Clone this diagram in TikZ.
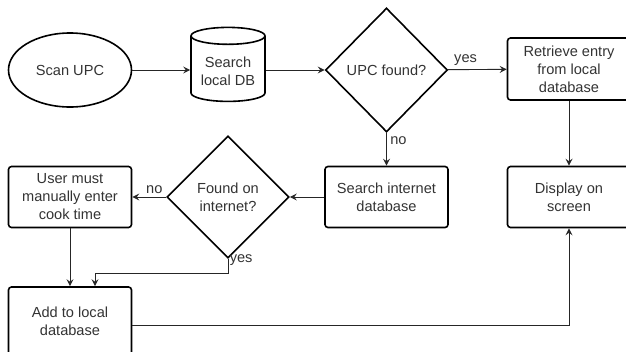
\documentclass[tikz,border=0pt]{standalone}
\usepackage		 {fontspec}
\setmainfont{Liberation Sans}
\usepackage		 {xcolor   }
\usepackage		 {tikz	  }
\usetikzlibrary{shapes,shapes.geometric,calc,positioning}
\usetikzlibrary	 {arrows.meta}
\begin{document}
\begin{tikzpicture}[x=1pt,y=-1pt]
  \tikzset{flow/.style={draw,line width=1.6pt,text=black!80,align=center,font=\fontsize{14.6}{18}\selectfont},
    flow box/.style={flow,rectangle,rounded corners=3pt,minimum width=123,minimum height=#1},
    flow box/.default=61,
    flow ask/.style={flow,diamond,inner sep=0pt,minimum width=122,minimum height=124},
    link/.style={draw=black!85,line width=0.9pt,-{Stealth[length=7pt,width=7pt,inset=2.5pt]}},
    tag/.style={text=black!80,font=\fontsize{14.6}{18}\selectfont}}
  \clip (0,0) rectangle (626,351);
  \node [flow,ellipse,minimum width=123,minimum height=74] (scan) at (70,70) {Scan UPC};
  \node [flow,cylinder,shape border rotate=90,aspect=0.3,minimum width=74,minimum height=74,inner sep=1pt] (localdb) at (228,70)
    {\raisebox{-6pt}[0pt][0pt]{\begin{tabular}{@{}c@{}}Search\\local DB\end{tabular}}};
  \node [flow ask] (upcfound) at (386.5,70) {UPC found?};
  \node [flow box=62] (retrieve) at (569,69) {Retrieve entry\\from local\\database};
  \node [flow box] (display) at (569,197) {Display on\\screen};
  \node [flow box] (webdb) at (386.5,197) {Search internet\\database};
  \node [flow ask,minimum height=122] (webfound) at (228,197) {Found on\\internet?};
  \node [flow box] (manual) at (70,197) {User must\\manually enter\\cook time};
  \node [flow box=72] (addlocal) at (70,323) {\raisebox{3pt}{\begin{tabular}{@{}c@{}}Add to local\\database\end{tabular}}};
  \draw [link] (scan) -- (localdb);
  \draw [link] (localdb) -- (upcfound);
  \draw [link] (upcfound) -- node[tag,above,pos=0.3] {yes} (retrieve);
  \draw [link] (retrieve) -- (display);
  \draw [link] (upcfound) -- node[tag,right,pos=0.25] {no} (webdb);
  \draw [link] (webdb) -- (webfound);
  \draw [link] (webfound) -- node[tag,above,pos=0.35] {no} (manual);
  \draw [link] (manual) -- (addlocal);
  \draw [link] (webfound.south) node[tag,right,xshift=-2pt,yshift=-1pt] {yes} -- ++(0,15) -| ([xshift=25pt]addlocal.north);
  \draw [link] ([yshift=-2pt]addlocal.east) -| (display.south);
\end{tikzpicture}
\end{document}
